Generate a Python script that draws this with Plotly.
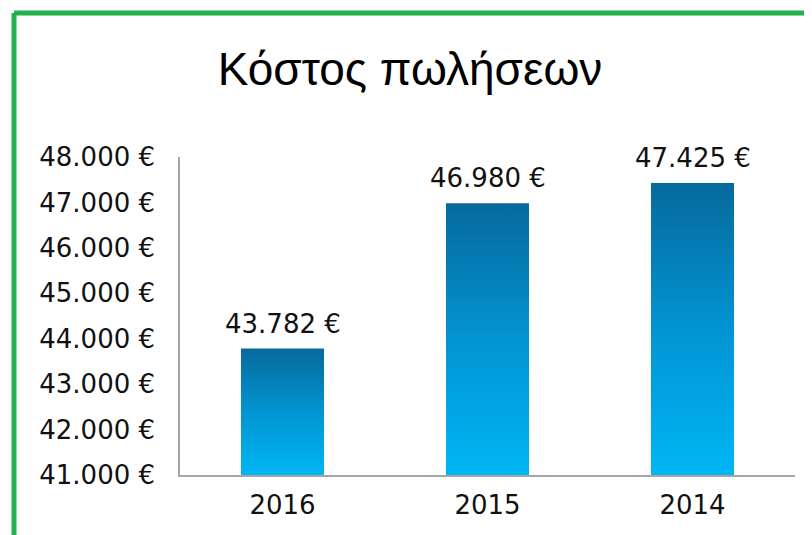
import plotly.graph_objects as go

years = ["2016", "2015", "2014"]
costs = [43782, 46980, 47425]
y_ticks = [41000, 42000, 43000, 44000, 45000, 46000, 47000, 48000]
title_text = "Κόστος πωλήσεων"

y_min, y_max = 41000, 48000
bar_w = 0.405
font_fam = "DejaVu Sans"
font_size = 26


def euro(v):
    return f"{v:,}".replace(",", ".") + " €"


fig = go.Figure()
for i, v in enumerate(costs):
    x0, x1 = i - bar_w / 2, i + bar_w / 2
    fig.add_trace(go.Scatter(
        x=[x0, x1, x1, x0, x0], y=[y_min, y_min, v, v, y_min],
        mode="lines", line=dict(width=0), fill="toself",
        fillgradient=dict(type="vertical",
                          colorscale=[[0, "#00b6f4"], [0.5, "#0294d2"], [1, "#066a9c"]]),
        hoverinfo="skip", showlegend=False))

for i, v in enumerate(costs):
    fig.add_annotation(x=i, y=v, text=euro(v), showarrow=False, xanchor="center",
                       yanchor="bottom", yshift=8,
                       font=dict(family=font_fam, size=font_size, color="#111"))

green = "#21b24b"
fig.add_shape(type="line", xref="paper", yref="paper", x0=-0.2699, x1=1.05,
              y0=1.4528, y1=1.4528, line=dict(color=green, width=5))
fig.add_shape(type="line", xref="paper", yref="paper", x0=-0.2699, x1=-0.2699,
              y0=1.4528, y1=-0.25, line=dict(color=green, width=5))

fig.update_layout(
    width=804, height=527,
    margin=dict(l=172, r=17, t=149, b=60),
    paper_bgcolor="white", plot_bgcolor="white",
    title=dict(text=title_text, x=0.5, xanchor="center", y=0.884, yanchor="middle",
               font=dict(family="Liberation Sans", size=46, color="#000")),
    xaxis=dict(range=[-0.5, 2.5], tickvals=list(range(len(years))), ticktext=years,
               showgrid=False, zeroline=False, showline=True, linecolor="#a6a6a6",
               linewidth=1.5, ticks="outside", ticklen=6, tickcolor="rgba(0,0,0,0)",
               tickfont=dict(family=font_fam, size=font_size, color="#111"),
               fixedrange=True, automargin=False),
    yaxis=dict(range=[y_min, y_max], tickvals=y_ticks, ticktext=[euro(t) for t in y_ticks],
               showgrid=False, zeroline=False, showline=True, linecolor="#a6a6a6",
               linewidth=1.5, ticks="outside", ticklen=18, tickcolor="rgba(0,0,0,0)",
               tickfont=dict(family=font_fam, size=font_size, color="#111"),
               fixedrange=True, automargin=False),
)

fig.write_html("out.html")
